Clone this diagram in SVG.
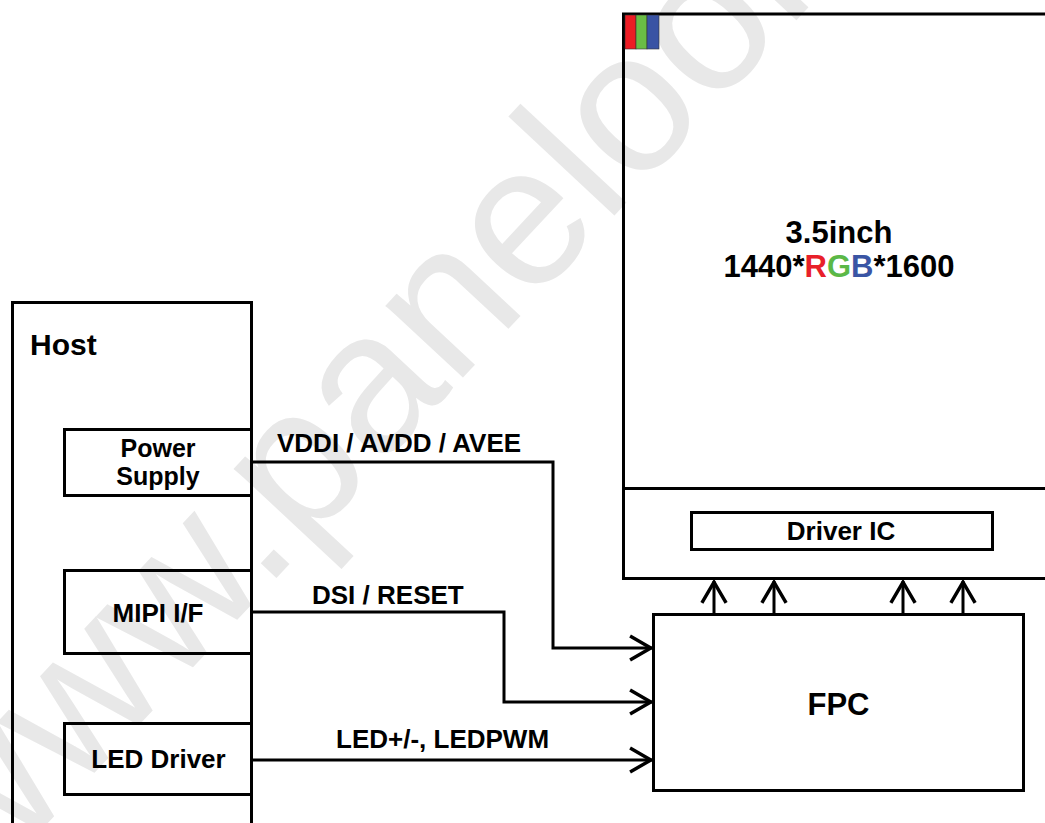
<svg xmlns="http://www.w3.org/2000/svg" width="1045" height="823" viewBox="0 0 1045 823">
<style>
.bx{fill:none;stroke:#000;stroke-width:3;stroke-linejoin:miter}
.wire{fill:none;stroke:#000;stroke-width:3}
.t{font-family:"Liberation Sans",Arial,sans-serif;font-weight:bold;fill:#000}
.c{text-anchor:middle}
.wm{font-family:"Liberation Sans",Arial,sans-serif;font-size:200px;fill:#e8e8e8}
</style>
<defs>
<marker id="arr" markerUnits="userSpaceOnUse" markerWidth="30" markerHeight="30" viewBox="-22 -13 24 26" refX="0" refY="0" orient="auto" overflow="visible">
<path d="M-19,-10.5 L-1,0 L-19,10.5" fill="none" stroke="#000" stroke-width="3"/>
</marker>
</defs>
<rect width="1045" height="823" fill="#fff"/>
<g id="watermark"><text class="wm" transform="translate(-24,900) rotate(-47)">www.panelook.com</text></g>
<g id="panel">
<path class="bx" d="M1048,14 H623.5 V578.5 H1048"/>
<line class="bx" x1="623" y1="488.5" x2="1048" y2="488.5"/>
<rect x="625" y="15" width="11" height="34" fill="#ed1c24" stroke="#333" stroke-width="0.6"/>
<rect x="636" y="15" width="11" height="34" fill="#6abd45" stroke="#333" stroke-width="0.6"/>
<rect x="647" y="15" width="12" height="34" fill="#3953a4" stroke="#333" stroke-width="0.6"/>
<text class="t c" x="839" y="243" font-size="31">3.5inch</text>
<text class="t c" x="839" y="277" font-size="31">1440*<tspan fill="#e8202a">R</tspan><tspan fill="#5bb847">G</tspan><tspan fill="#3a55a4">B</tspan>*1600</text>
</g>
<g id="driver-ic">
<rect class="bx" x="691.5" y="512.5" width="301" height="37"/>
<text class="t c" x="841" y="540" font-size="26">Driver IC</text>
</g>
<g id="host">
<path class="bx" d="M12.5,830 V302.5 H251.5 V830"/>
<text class="t" x="30" y="355" font-size="30">Host</text>
</g>
<g id="power-supply">
<rect class="bx" x="64.5" y="429.5" width="187" height="66"/>
<text class="t c" x="158" y="457" font-size="25">Power</text>
<text class="t c" x="158" y="485" font-size="25">Supply</text>
</g>
<g id="mipi">
<rect class="bx" x="64.5" y="570.5" width="187" height="83"/>
<text class="t c" x="158" y="622" font-size="26">MIPI I/F</text>
</g>
<g id="led-driver">
<rect class="bx" x="64.5" y="723.5" width="187" height="71"/>
<text class="t c" x="158.5" y="768" font-size="26">LED Driver</text>
</g>
<g id="fpc">
<rect class="bx" x="653.5" y="614.5" width="370" height="176"/>
<text class="t c" x="838.5" y="715" font-size="31">FPC</text>
</g>
<g id="connectors">
<path class="wire" d="M252,462 H553 V648 H652" marker-end="url(#arr)"/>
<path class="wire" d="M252,612 H504 V702 H652" marker-end="url(#arr)"/>
<path class="wire" d="M252,760 H652" marker-end="url(#arr)"/>
<line class="wire" x1="714" y1="613" x2="714" y2="581" marker-end="url(#arr)"/>
<line class="wire" x1="774" y1="613" x2="774" y2="581" marker-end="url(#arr)"/>
<line class="wire" x1="903" y1="613" x2="903" y2="581" marker-end="url(#arr)"/>
<line class="wire" x1="963" y1="613" x2="963" y2="581" marker-end="url(#arr)"/>
<text class="t" x="277" y="452" font-size="26">VDDI / AVDD / AVEE</text>
<text class="t" x="312" y="604" font-size="26">DSI / RESET</text>
<text class="t" x="336" y="748" font-size="26">LED+/-, LEDPWM</text>
</g>
</svg>
